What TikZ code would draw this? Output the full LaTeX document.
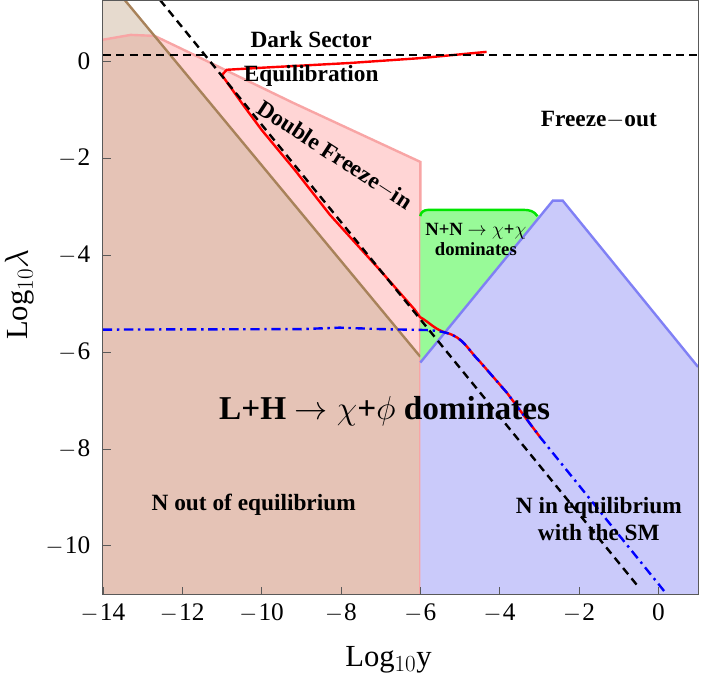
\documentclass[tikz,border=0pt]{standalone}
\usepackage{fontspec}
\setmainfont{Liberation Serif}
\usepackage{tikz}
\usetikzlibrary{arrows}

\definecolor{brownfill}{RGB}{229,195,182}
\definecolor{beigefill}{RGB}{230,218,206}
\definecolor{pinkfill}{RGB}{255,213,213}
\definecolor{pinkedge}{RGB}{248,165,165}
\definecolor{brownline}{RGB}{168,130,90}
\definecolor{greenfill}{RGB}{152,250,152}
\definecolor{blueedge}{RGB}{128,128,245}
\definecolor{bluefill}{RGB}{202,202,250}
\tikzset{
  lab/.style={font=\bfseries\fontsize{17.5}{20}\selectfont},
  ticklab/.style={font=\fontsize{19}{21}\selectfont},
  dashline/.style={black,line width=1.8pt,dash pattern=on 6pt off 4pt},
  dotline/.style={blue,line width=1.8pt,dash pattern=on 7pt off 3.5pt on 1.8pt off 3.5pt}
}

\begin{document}
\begin{tikzpicture}[x=29.775pt,y=36.375pt]
  \useasboundingbox (-16.594,-12.76) rectangle (1.1,1.26);
  \begin{scope}
  \clip (-14,-11) rectangle (1,1.26);
  % left regions
  \fill[pinkfill] (-14,0.44) -- (-13.3,0.54) -- (-12.7,0.52) -- (-12.06,0.27) -- (-9.21,-0.86)
    -- (-6,-2.08) -- (-6,-6.1) -- (-13.45,1.26) -- (-14,1.26) -- cycle;
  \fill[beigefill] (-14,0.44) -- (-13.3,0.54) -- (-12.7,0.52) -- (-13.45,1.26) -- (-14,1.26) -- cycle;
  \fill[brownfill] (-14,-11) -- (-6,-11) -- (-6,-6.1) -- (-12.7,0.52) -- (-13.3,0.54) -- (-14,0.44) -- cycle;
  \draw[pinkedge,line width=1.8pt] (-14,0.44) -- (-13.3,0.54) -- (-12.7,0.52) -- (-12.06,0.27) -- (-9.21,-0.86)
    -- (-6,-2.08) -- (-6,-11);
  \draw[brownline,line width=1.8pt] (-13.45,1.26) -- (-6,-6.1);
  % green and blue regions
  \fill[greenfill] (-6,-6.2) -- (-6,-3.2) to[out=90,in=180] (-5.8,-3.07) -- (-3.4,-3.07)
    to[out=0,in=120] (-2.9,-3.3) -- (-2.9,-6.2) -- cycle;
  \draw[green!90!black,line width=1.8pt] (-6,-3.2) to[out=90,in=180] (-5.8,-3.07) -- (-3.4,-3.07)
    to[out=0,in=120] (-3.05,-3.2);
  \fill[bluefill] (-6,-11) -- (-6,-6.22) -- (-2.66,-2.88) -- (-2.41,-2.88) -- (1,-6.31) -- (1,-11) -- cycle;
  \draw[blueedge,line width=1.8pt] (-6,-6.22) -- (-2.66,-2.88) -- (-2.41,-2.88) -- (1,-6.31);
  % curves
  \draw[red,line width=1.8pt] (-4.33,0.19) -- (-6.01,0.06) -- (-7.78,-0.04) -- (-10.05,-0.14) -- (-10.88,-0.18)
    -- (-11.0,-0.29) -- (-10.47,-0.9) -- (-10,-1.42) -- (-9.16,-2.25) -- (-8.28,-3.17) -- (-7.02,-4.31)
    -- (-6.14,-5.13) -- (-6.01,-5.28) to[out=-30,in=165] (-5.33,-5.61) to[out=-15,in=135] (-4.5,-6.2)
    -- (-3.82,-6.84) -- (-2.99,-7.75);
  \draw[dashline] (-14,0.127) -- (1,0.127);
  \draw[dashline] (-12.56,1.26) -- (-0.55,-10.8);
  \draw[dotline] (-14,-5.54) -- (-9,-5.53) -- (-8.03,-5.5) -- (-7,-5.53) -- (-5.8,-5.55)
    to[out=-5,in=165] (-5.33,-5.61) to[out=-15,in=135] (-4.5,-6.2) -- (-3.82,-6.84) -- (-2.99,-7.75) -- (0.21,-11);
  \end{scope}
  % frame and ticks
  \draw[gray!70!black,line width=0.8pt] (-14,-11) rectangle (1,1.26);
  \foreach \tx/\tl in {-14/14,-12/12,-10/10,-8/8,-6/6,-4/4,-2/2}{
    \draw[gray!70!black] (\tx,-11) -- ++(0,0.15);
    \node[ticklab,anchor=north] (xt\tl) at (\tx,-11.1) {$-$\hspace{1pt}\tl};
  }
  \foreach \ty/\tl in {-10/10,-8/8,-6/6,-4/4,-2/2}{
    \draw[gray!70!black] (-14,\ty) -- ++(0.2,0);
    \node[ticklab,anchor=east] (yt\tl) at (-14.2,\ty) {$-$\hspace{1pt}\tl};
  }
  \draw[gray!70!black] (0,-11) -- ++(0,0.15);
  \draw[gray!70!black] (-14,0) -- ++(0.2,0);
  \node[ticklab,anchor=north] (xt0) at (0,-11.1) {0};
  \node[ticklab,anchor=east] (yt0) at (-14.2,0) {0};
  % axis labels
  \node[font=\fontsize{23}{25}\selectfont] (xlab) at (-6.8,-12.35) {Log$_{10}$y};
  \node[font=\fontsize{23}{25}\selectfont,rotate=90] (ylab) at (-16.1,-4.82) {Log$_{10}\lambda$};
  % region labels
  \node[lab] (dark) at (-8.75,0.44) {Dark Sector};
  \node[lab] (equil) at (-8.75,-0.31) {Equilibration};
  \node[lab] (fout) at (-1.5,-1.21) {Freeze$-$out};
  \node[lab,rotate=-33] (dfi) at (-8.16,-1.94) {Double Freeze$-$in};
  \node[font=\bfseries\fontsize{14}{15}\selectfont,align=center,inner sep=1pt] (nn) at (-4.6,-3.69)
    {N+N $\to\chi$+$\chi$\\dominates};
  \node[font=\bfseries\fontsize{25}{28}\selectfont] (lh) at (-6.9,-7.23) {L+H $\to\chi$+$\phi$ dominates};
  \node[lab] (nout) at (-10.2,-9.15) {N out of equilibrium};
  \node[lab,align=center] (nin) at (-1.5,-9.45) {N in equilibrium\\with the SM};
\end{tikzpicture}
\end{document}
